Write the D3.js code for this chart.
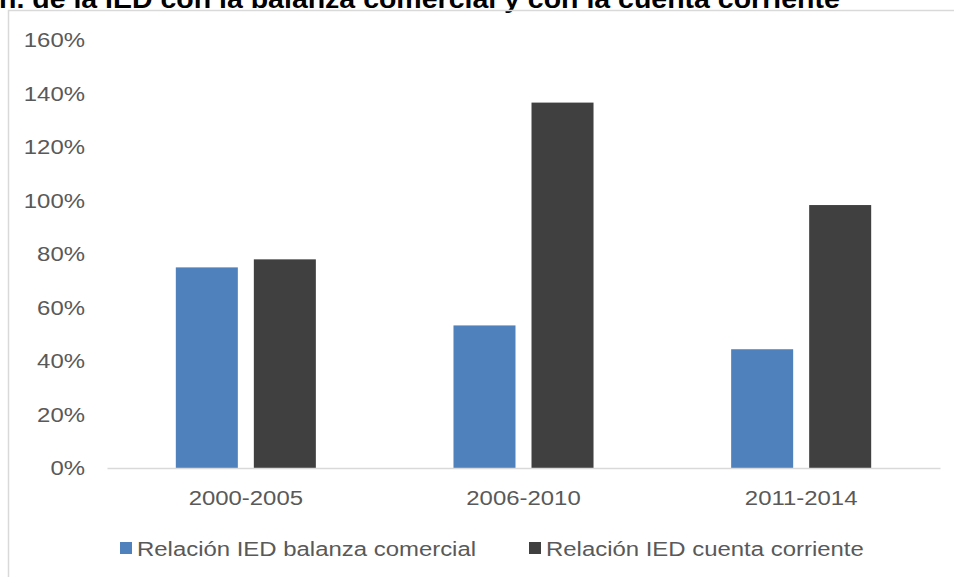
<!DOCTYPE html>
<html>
<head>
<meta charset="utf-8">
<script src="https://cdn.jsdelivr.net/npm/d3@7"></script>
<style>
  html, body { margin: 0; padding: 0; background: #ffffff; }
  svg { display: block; font-family: "Liberation Sans", Arial, sans-serif; }
</style>
</head>
<body>
<svg id="chart" width="954" height="577"></svg>
<script>
// Periods and series
const categories = ["2000-2005", "2006-2010", "2011-2014"];
const seriesNames = ["Relación IED balanza comercial", "Relación IED cuenta corriente"];
const balanzaComercial = [0.75, 0.533, 0.444];
const cuentaCorriente = [0.78, 1.366, 0.983];
const yTicks = [0, 0.2, 0.4, 0.6, 0.8, 1.0, 1.2, 1.4, 1.6];
const colors = ["#4f81bd", "#404040"];

const svg = d3.select("#chart");
const W = 954, H = 577;
const STRETCH = "scale(1.14,1)"; // text is drawn slightly wide

// Title (partially cut by the top edge)
svg.append("text")
  .attr("transform", "translate(-1,8) " + STRETCH)
  .attr("font-size", 25).attr("font-weight", "bold").attr("fill", "#000")
  .text("n. de la IED con la balanza comercial y con la cuenta corriente");

// Chart frame
svg.append("rect")
  .attr("x", 8.5).attr("y", 10.5)
  .attr("width", W + 10).attr("height", H + 10)
  .attr("fill", "none").attr("stroke", "#d9d9d9").attr("stroke-width", 1.5);

const plot = { left: 107, right: 940, top: 40, bottom: 468 };

const y = d3.scaleLinear().domain([0, 1.6]).range([plot.bottom, plot.top]);
const x0 = d3.scaleBand().domain(categories).range([plot.left, plot.right]).padding(0);
const x1 = d3.scaleBand().domain([0, 1]).range([0, x0.bandwidth()])
  .paddingInner(16 / 78).paddingOuter(0.882);

// Y axis labels
const yAxis = d3.axisLeft(y).tickValues(yTicks).tickFormat(d3.format(".0%")).tickSize(0).tickPadding(0);
const gy = svg.append("g").attr("transform", "translate(85,0)").call(yAxis);
gy.select(".domain").remove();
gy.selectAll("text").attr("font-size", 21).attr("fill", "#595959")
  .attr("font-family", "'Liberation Sans', Arial, sans-serif")
  .attr("transform", STRETCH);

// Bars
const rows = categories.map((c, i) => ({ cat: c, vals: [balanzaComercial[i], cuentaCorriente[i]] }));
const groups = svg.append("g").selectAll("g").data(rows).join("g")
  .attr("transform", d => `translate(${x0(d.cat)},0)`);
groups.selectAll("rect").data(d => d.vals.map((v, k) => ({ v, k }))).join("rect")
  .attr("x", d => x1(d.k))
  .attr("width", x1.bandwidth())
  .attr("y", d => y(d.v))
  .attr("height", d => y(0) - y(d.v))
  .attr("fill", d => colors[d.k]);

// Baseline and category labels
const xAxis = d3.axisBottom(x0).tickSize(0).tickPadding(0);
const gx = svg.append("g").attr("transform", `translate(0,${plot.bottom})`).call(xAxis);
gx.select(".domain").attr("stroke", "#d9d9d9").attr("stroke-width", 1.5);
gx.selectAll("text").attr("font-size", 21).attr("fill", "#595959")
  .attr("dy", 0).attr("y", 0)
  .attr("font-family", "'Liberation Sans', Arial, sans-serif")
  .attr("transform", "translate(0,37) " + STRETCH);

// Legend
const legendX = [120, 529];
const legend = svg.append("g").selectAll("g").data(seriesNames).join("g")
  .attr("transform", (d, i) => `translate(${legendX[i]},548)`);
legend.append("rect").attr("x", 0).attr("y", -6).attr("width", 12).attr("height", 12)
  .attr("fill", (d, i) => colors[i]);
legend.append("text")
  .attr("transform", "translate(17,7.5) " + STRETCH)
  .attr("font-size", 21).attr("fill", "#595959").text(d => d);
</script>
</body>
</html>
